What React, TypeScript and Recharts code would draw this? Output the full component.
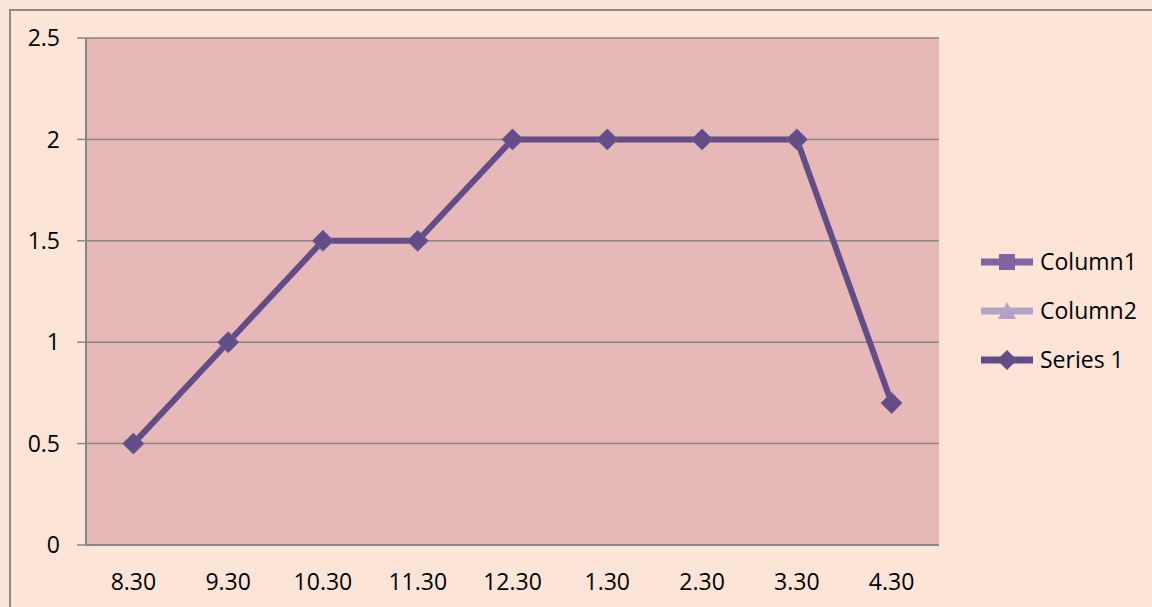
import React from 'react';
import { LineChart, Line, XAxis, YAxis, CartesianGrid } from 'recharts';

const categories = ['8.30', '9.30', '10.30', '11.30', '12.30', '1.30', '2.30', '3.30', '4.30'];
const series1 = [0.5, 1, 1.5, 1.5, 2, 2, 2, 2, 0.7];
const column1: (number | null)[] = [null, null, null, null, null, null, null, null, null];
const column2: (number | null)[] = [null, null, null, null, null, null, null, null, null];
const yTicks = [0, 0.5, 1, 1.5, 2, 2.5];
const seriesNames = ['Column1', 'Column2', 'Series 1'];

const COL1 = '#8064A2';
const COL2 = '#B3A2C7';
const S1 = '#624D87';
const GRID = '#878787';
const FONT = '"Open Sans", sans-serif';

const data = categories.map((c, i) => ({
  pos: i + 0.5,
  label: c,
  c1: column1[i],
  c2: column2[i],
  s1: series1[i],
}));

const boundaryTicks = categories.map((_, i) => i).concat([categories.length]);
const centerTicks = categories.map((_, i) => i + 0.5);

const Diamond = (props: any) => {
  const { cx, cy } = props;
  if (cx == null || cy == null) return null;
  const r = 10.5;
  return (
    <polygon
      points={`${cx},${cy - r} ${cx + r},${cy} ${cx},${cy + r} ${cx - r},${cy}`}
      fill={S1}
      stroke="#72609A"
      strokeWidth={1}
    />
  );
};

const LegendSymbol = ({ color, kind }: { color: string; kind: string }) => (
  <svg width={54} height={22} style={{ display: 'block' }}>
    <line x1={1} y1={11} x2={53} y2={11} stroke={color} strokeWidth={7} />
    {kind === 'square' && <rect x={19} y={3} width={16} height={16} fill={color} />}
    {kind === 'triangle' && <polygon points="27,2 36,19 18,19" fill={color} />}
    {kind === 'diamond' && <polygon points="27,1 37,11 27,21 17,11" fill={color} />}
  </svg>
);

export default function App() {
  const legendItems = [
    { name: seriesNames[0], color: COL1, kind: 'square' },
    { name: seriesNames[1], color: COL2, kind: 'triangle' },
    { name: seriesNames[2], color: S1, kind: 'diamond' },
  ];
  return (
    <div
      style={{
        position: 'absolute',
        left: 0,
        top: 0,
        width: 1152,
        height: 607,
        background: '#FCE4D6',
        overflow: 'hidden',
        fontFamily: FONT,
      }}
    >
      <div
        style={{
          position: 'absolute',
          left: 9,
          top: 9,
          width: 1400,
          height: 800,
          border: '2px solid #8A8A8A',
          boxSizing: 'border-box',
        }}
      />
      <div style={{ position: 'absolute', left: 0, top: 0 }}>
        <LineChart
          width={1152}
          height={607}
          data={data}
          margin={{ top: 38, right: 213, bottom: 0, left: 0 }}
          style={{ fontFamily: FONT }}
        >
          <CartesianGrid
            vertical={false}
            horizontal={true}
            fill="#E6B8B7"
            stroke={GRID}
            strokeWidth={1.5}
          />
          <XAxis
            xAxisId="b"
            type="number"
            dataKey="pos"
            domain={[0, categories.length]}
            ticks={boundaryTicks}
            tick={false}
            tickSize={9}
            height={10}
            axisLine={{ stroke: GRID, strokeWidth: 2 }}
            tickLine={{ stroke: GRID, strokeWidth: 2 }}
          />
          <XAxis
            xAxisId="c"
            type="number"
            dataKey="pos"
            domain={[0, categories.length]}
            ticks={centerTicks}
            tickFormatter={(v: number) => categories[Math.floor(v)]}
            tickSize={0}
            tickMargin={19}
            height={52}
            axisLine={false}
            tickLine={false}
            tick={{ fill: '#000', fontSize: 23, fontFamily: FONT }}
          />
          <YAxis
            type="number"
            domain={[0, 2.5]}
            ticks={yTicks}
            width={86}
            tickSize={9}
            tickMargin={17}
            axisLine={{ stroke: GRID, strokeWidth: 2 }}
            tickLine={{ stroke: GRID, strokeWidth: 1.5 }}
            tick={{ fill: '#000', fontSize: 23, fontFamily: FONT }}
          />
          <Line
            xAxisId="b"
            dataKey="c1"
            name={seriesNames[0]}
            stroke={COL1}
            strokeWidth={6}
            dot={false}
            isAnimationActive={false}
          />
          <Line
            xAxisId="b"
            dataKey="c2"
            name={seriesNames[1]}
            stroke={COL2}
            strokeWidth={6}
            dot={false}
            isAnimationActive={false}
          />
          <Line
            xAxisId="b"
            dataKey="s1"
            name={seriesNames[2]}
            stroke={S1}
            strokeWidth={6}
            strokeLinejoin="round"
            dot={<Diamond />}
            activeDot={false}
            isAnimationActive={false}
          />
        </LineChart>
      </div>
      <div style={{ position: 'absolute', left: 980, top: 237 }}>
        {legendItems.map((it) => (
          <div
            key={it.name}
            style={{ display: 'flex', alignItems: 'center', height: 49, fontSize: 23, color: '#000' }}
          >
            <LegendSymbol color={it.color} kind={it.kind} />
            <span style={{ marginLeft: 6, lineHeight: '23px' }}>{it.name}</span>
          </div>
        ))}
      </div>
    </div>
  );
}
